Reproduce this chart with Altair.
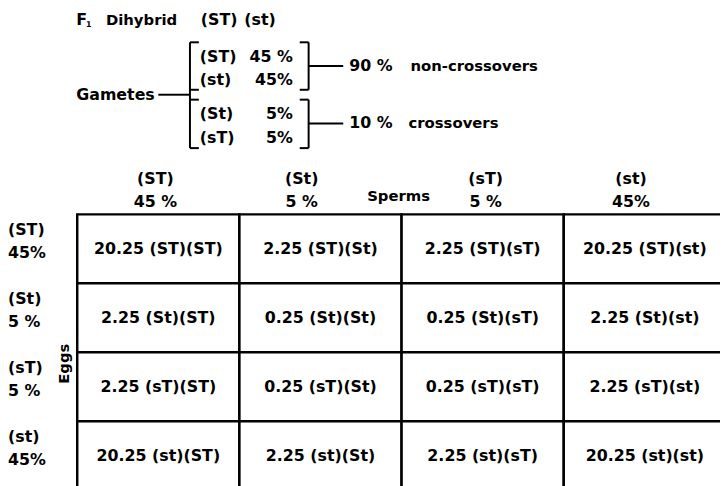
import altair as alt
import pandas as pd

# ---------------- data ----------------
parent_types = ["(ST)", "(st)"]
gamete_types = ["(ST)", "(st)", "(St)", "(sT)"]
gamete_percent = ["45 %", "45%", "5%", "5%"]
group_percent = ["90 %", "10 %"]
group_labels = ["non-crossovers", "crossovers"]

sperm_types = ["(ST)", "(St)", "(sT)", "(st)"]
sperm_percent = ["45 %", "5 %", "5 %", "45%"]
egg_types = ["(ST)", "(St)", "(sT)", "(st)"]
egg_percent = ["45%", "5 %", "5 %", "45%"]
offspring_percent = [
    [20.25, 2.25, 2.25, 20.25],
    [2.25, 0.25, 0.25, 2.25],
    [2.25, 0.25, 0.25, 2.25],
    [20.25, 2.25, 2.25, 20.25],
]

# ---------------- layout ----------------
FONT = "DejaVu Sans"
FS = 16
FS_WORD = 15
X0, X1 = 70, 726      # grid left/right in svg px (4 columns)
Y0, Y1 = 206, 485     # grid top/bottom in svg px (4 rows)
CW = (X1 - X0) / 4
RH = (Y1 - Y0) / 4

xs = alt.Scale(domain=[0, 4], range=[X0, X1], nice=False, zero=False)
ys = alt.Scale(domain=[0, 4], range=[Y0, Y1], nice=False, zero=False)


def gx(px):  # page pixel -> grid column units
    return (px - 8 - X0) / CW


def gy(py):  # page pixel -> grid row units
    return (py - 8 - Y0) / RH


# cells
cells = []
for r in range(4):
    for c in range(4):
        v = offspring_percent[r][c]
        cells.append(dict(col=c, col2=c + 1, row=r, row2=r + 1,
                          cx=c + 0.5, cy=r + 0.5,
                          label=f"{v:.2f} {egg_types[r]}{sperm_types[c]}"))
cells = pd.DataFrame(cells)

# column headers (sperms)
hdr_dx = [-3, -19, 3, -14]
hdr = []
for i in range(4):
    hx = i + 0.5 + hdr_dx[i] / CW
    hdr.append(dict(t=sperm_types[i], x=hx, y=gy(178), fs=FS))
    hdr.append(dict(t=sperm_percent[i], x=hx, y=gy(202), fs=FS))
hdr.append(dict(t="Sperms", x=gx(403), y=gy(195), fs=FS_WORD))

# row headers (eggs) - left aligned
rowlab = []
for i in range(4):
    rowlab.append(dict(t=egg_types[i], x=gx(8), y=i + 0.23, fs=FS))
    rowlab.append(dict(t=egg_percent[i], x=gx(8), y=i + 0.56, fs=FS))

# gametes diagram, left aligned texts
left = [
    dict(t="F", x=gx(77), y=gy(18), fs=FS),
    dict(t="1", x=gx(87), y=gy(23), fs=8),
    dict(t="Dihybrid", x=gx(107), y=gy(18), fs=FS_WORD),
    dict(t=parent_types[0], x=gx(203), y=gy(18), fs=FS),
    dict(t=parent_types[1], x=gx(247), y=gy(18), fs=FS),
    dict(t="Gametes", x=gx(77), y=gy(93), fs=FS),
]
gam_y = [55, 78, 113, 137]
for i in range(4):
    left.append(dict(t=gamete_types[i], x=gx(202), y=gy(gam_y[i]), fs=FS))
grp_y = [64, 122]
grp_word_x = [415, 413]
for i in range(2):
    left.append(dict(t=group_percent[i], x=gx(353), y=gy(grp_y[i]), fs=FS))
    left.append(dict(t=group_labels[i], x=gx(grp_word_x[i]), y=gy(grp_y[i]), fs=FS_WORD))
left = pd.DataFrame(left + rowlab)

right = pd.DataFrame([dict(t=gamete_percent[i], x=gx(296), y=gy(gam_y[i]), fs=FS) for i in range(4)])

segs_px = [
    (160, 93, 192, 93),
    (192, 40, 192, 147),
    (192, 40, 201, 40), (192, 88, 201, 88), (192, 98, 201, 98), (192, 147, 201, 147),
    (312, 40, 312, 88), (312, 98, 312, 147),
    (303, 40, 312, 40), (303, 88, 312, 88), (303, 98, 312, 98), (303, 147, 312, 147),
    (312, 64, 347, 64), (312, 122, 347, 122),
]
segs = pd.DataFrame([dict(x=gx(a), y=gy(b), x2=gx(c), y2=gy(d)) for a, b, c, d in segs_px])

# ---------------- chart ----------------
X = lambda f: alt.X(f, scale=xs, axis=None)
Y = lambda f: alt.Y(f, scale=ys, axis=None)

rects = alt.Chart(cells).mark_rect(fill="white", stroke="black", strokeWidth=2.5).encode(
    x=X("col:Q"), x2="col2:Q", y=Y("row:Q"), y2="row2:Q")

cell_text = alt.Chart(cells).mark_text(font=FONT, fontSize=FS, fontWeight="bold", color="black").encode(
    x=X("cx:Q"), y=Y("cy:Q"), text="label:N")

hdr_text = alt.Chart(pd.DataFrame(hdr)).mark_text(font=FONT, fontWeight="bold", color="black").encode(
    x=X("x:Q"), y=Y("y:Q"), text="t:N", size=alt.Size("fs:Q", scale=None, legend=None))

left_text = alt.Chart(left).mark_text(font=FONT, fontWeight="bold", color="black", align="left").encode(
    x=X("x:Q"), y=Y("y:Q"), text="t:N", size=alt.Size("fs:Q", scale=None, legend=None))

right_text = alt.Chart(right).mark_text(font=FONT, fontWeight="bold", color="black", align="right").encode(
    x=X("x:Q"), y=Y("y:Q"), text="t:N", size=alt.Size("fs:Q", scale=None, legend=None))

eggs = alt.Chart(pd.DataFrame([dict(t="Eggs", x=gx(65), y=gy(365))])).mark_text(
    font=FONT, fontSize=FS_WORD, fontWeight="bold", color="black", angle=270).encode(
    x=X("x:Q"), y=Y("y:Q"), text="t:N")

lines = alt.Chart(segs).mark_rule(color="black", strokeWidth=2).encode(
    x=X("x:Q"), x2="x2:Q", y=Y("y:Q"), y2="y2:Q")

chart = alt.layer(rects, cell_text, hdr_text, left_text, right_text, eggs, lines).properties(
    width=720, height=478, padding=0, autosize="none", background="white"
).configure_view(strokeWidth=0)

chart.save("out.html", embed_options={"renderer": "svg", "actions": False})
